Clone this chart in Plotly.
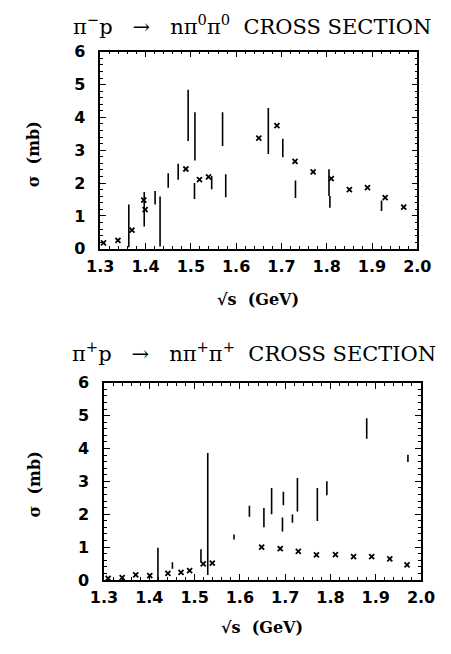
import plotly.graph_objects as go

# ---- pi- p -> n pi0 pi0 : point measurements (crosses) ----
pm_x = [1.307, 1.339, 1.370, 1.396, 1.399, 1.489, 1.519, 1.539,
        1.650, 1.690, 1.730, 1.770, 1.810, 1.850, 1.890, 1.929, 1.970]
pm_y = [0.18, 0.26, 0.57, 1.48, 1.19, 2.43, 2.11, 2.19,
        3.37, 3.75, 2.66, 2.34, 2.14, 1.80, 1.86, 1.56, 1.27]
# ---- pi- p -> n pi0 pi0 : range measurements (vertical bars) ----
pm_bx = [1.363, 1.397, 1.421, 1.432, 1.450, 1.472, 1.494, 1.509, 1.508,
         1.546, 1.570, 1.577, 1.671, 1.703, 1.731, 1.805, 1.807, 1.921]
pm_lo = [0.05, 0.68, 1.35, 0.07, 1.86, 2.10, 3.28, 2.69, 1.52,
         1.81, 3.13, 1.57, 2.89, 2.79, 1.55, 1.61, 1.25, 1.15]
pm_hi = [1.35, 1.73, 1.76, 1.59, 2.30, 2.59, 4.84, 4.16, 2.00,
         2.22, 4.16, 2.27, 4.29, 3.35, 2.08, 2.42, 1.61, 1.47]

# ---- pi+ p -> n pi+ pi+ : point measurements (crosses) ----
pp_x = [1.309, 1.340, 1.370, 1.401, 1.441, 1.470, 1.489, 1.519, 1.539,
        1.648, 1.689, 1.729, 1.769, 1.811, 1.851, 1.891, 1.931, 1.969]
pp_y = [0.05, 0.07, 0.15, 0.13, 0.20, 0.23, 0.28, 0.49, 0.51,
        1.00, 0.95, 0.87, 0.76, 0.77, 0.71, 0.71, 0.64, 0.46]
# ---- pi+ p -> n pi+ pi+ : range measurements (vertical bars) ----
pp_bx = [1.419, 1.451, 1.514, 1.529, 1.587, 1.621, 1.653, 1.670, 1.696,
         1.694, 1.716, 1.727, 1.771, 1.792, 1.880, 1.971]
pp_lo = [0.00, 0.34, 0.54, 0.15, 1.23, 1.92, 1.60, 2.00, 2.27,
         1.47, 1.74, 2.08, 1.79, 2.58, 4.30, 3.59]
pp_hi = [0.98, 0.54, 0.93, 3.86, 1.38, 2.26, 2.19, 2.80, 2.68,
         1.90, 1.99, 3.10, 2.80, 3.00, 4.92, 3.81]

x_ticks = [1.3, 1.4, 1.5, 1.6, 1.7, 1.8, 1.9, 2.0]
x_tick_text = ["1.3", "1.4", "1.5", "1.6", "1.7", "1.8", "1.9", "2.0"]
y_ticks = [0, 1, 2, 3, 4, 5, 6]

W, H = 451, 654
INK = "black"


def segments(xs, lo, hi):
    sx, sy = [], []
    for x, a, b in zip(xs, lo, hi):
        sx += [x, x, None]
        sy += [a, b, None]
    return sx, sy


fig = go.Figure()

for (bx, lo, hi, px, py, xa, ya) in [
    (pm_bx, pm_lo, pm_hi, pm_x, pm_y, "x", "y"),
    (pp_bx, pp_lo, pp_hi, pp_x, pp_y, "x2", "y2"),
]:
    sx, sy = segments(bx, lo, hi)
    fig.add_trace(go.Scatter(x=sx, y=sy, mode="lines",
                             line=dict(color=INK, width=1.6),
                             xaxis=xa, yaxis=ya, showlegend=False,
                             hoverinfo="skip"))
    fig.add_trace(go.Scatter(x=px, y=py, mode="markers",
                             marker=dict(symbol="x-thin", size=5,
                                         line=dict(color=INK, width=1.8)),
                             xaxis=xa, yaxis=ya, showlegend=False))

tick_font = dict(family="DejaVu Sans", size=16, color=INK, weight="bold")

xcommon = dict(range=[1.3, 2.0], tickvals=x_ticks, ticktext=x_tick_text,
               ticks="inside", ticklen=6, tickwidth=1, tickcolor=INK,
               showline=True, linecolor=INK, linewidth=1.5, mirror="allticks",
               showgrid=False, zeroline=False, tickfont=tick_font,
               ticklabelstandoff=2,
               minor=dict(dtick=0.02, tick0=1.3, ticks="inside", ticklen=3,
                          tickcolor=INK, tickwidth=1, showgrid=False))
ycommon = dict(range=[0, 6], tickvals=y_ticks,
               ticks="inside", ticklen=6, tickwidth=1, tickcolor=INK,
               showline=True, linecolor=INK, linewidth=1.5, mirror="allticks",
               showgrid=False, zeroline=False, tickfont=tick_font,
               ticklabelstandoff=10,
               minor=dict(dtick=0.2, tick0=0, ticks="inside", ticklen=3,
                          tickcolor=INK, tickwidth=1, showgrid=False))


def dom(a, b, size, flip=False):
    if flip:
        return [1 - b / size, 1 - a / size]
    return [a / size, b / size]


fig.update_layout(
    width=W, height=H,
    margin=dict(l=0, r=0, t=0, b=0),
    paper_bgcolor="white", plot_bgcolor="white",
    xaxis=dict(domain=dom(92, 430, W), anchor="y", **xcommon),
    yaxis=dict(domain=dom(44, 247, H, True), anchor="x", **ycommon),
    xaxis2=dict(domain=dom(96, 434, W), anchor="y2", **xcommon),
    yaxis2=dict(domain=dom(385, 588, H, True), anchor="x2", **ycommon),
)

sp = "\u00a0"
title_font = dict(family="DejaVu Serif", size=21, color=INK)
label_font = dict(family="DejaVu Serif", size=16, color=INK, weight="bold")

annotations = [
    dict(text=f"π<sup>−</sup>p{sp*3}→{sp*3}nπ<sup>0</sup>π<sup>0</sup>{sp*2}CROSS SECTION",
         x=254 / W, y=1 - 16 / H, font=title_font),
    dict(text=f"π<sup>+</sup>p{sp*3}→{sp*3}nπ<sup>+</sup>π<sup>+</sup>{sp*2}CROSS SECTION",
         x=256 / W, y=1 - 353 / H, font=title_font),
    dict(text=f"√s{sp*2}(GeV)", x=260 / W, y=1 - 299 / H, font=label_font),
    dict(text=f"√s{sp*2}(GeV)", x=264 / W, y=1 - 637 / H, font=label_font),
    dict(text=f"σ{sp*2}(mb)", x=21 / W, y=1 - 150 / H, textangle=-90, font=label_font),
    dict(text=f"σ{sp*2}(mb)", x=22 / W, y=1 - 490 / H, textangle=-90, font=label_font),
]
for a in annotations:
    a.update(xref="paper", yref="paper", showarrow=False,
             xanchor="center", yanchor="middle")
fig.update_layout(annotations=annotations)

fig.write_html("out.html")
